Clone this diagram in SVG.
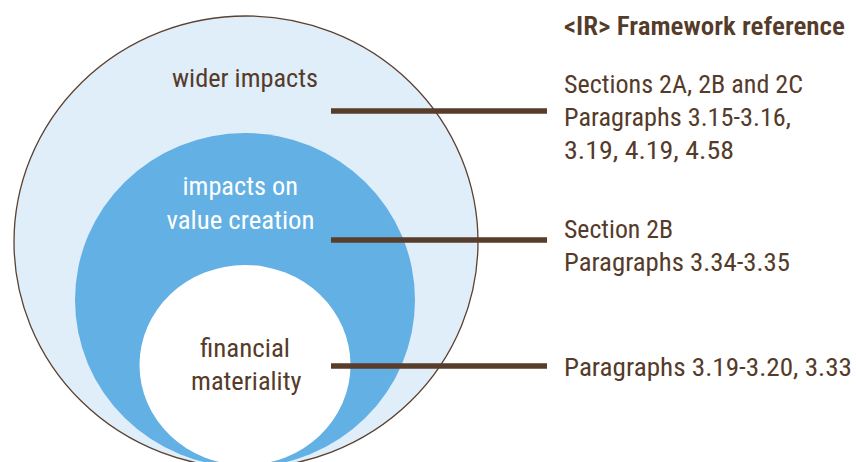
<svg xmlns="http://www.w3.org/2000/svg" width="856" height="462" viewBox="0 0 856 462">
<style>
.t{font-family:"Liberation Sans Narrow","Roboto Condensed","Liberation Sans",Arial,sans-serif;font-size:26.5px;fill:#553b2a}
.w{fill:#ffffff}
.h{font-weight:600;font-size:25px}
.c{stroke:#573d2a;stroke-width:5.5;fill:none}
</style>
<rect width="856" height="462" fill="#ffffff"/>
<g id="wider">
<ellipse cx="246" cy="242" rx="232" ry="226" fill="#e0eefa" stroke="#5a4232" stroke-width="1.3"/>
<text class="t" x="172" y="86.5" textLength="146" lengthAdjust="spacingAndGlyphs">wider impacts</text>
</g>
<g id="value">
<ellipse cx="245" cy="300" rx="170" ry="167" fill="#63b0e4"/>
<text class="t w" x="182.5" y="195" textLength="115.5" lengthAdjust="spacingAndGlyphs">impacts on</text>
<text class="t w" x="166.5" y="229" textLength="148" lengthAdjust="spacingAndGlyphs">value creation</text>
</g>
<g id="financial">
<ellipse cx="245" cy="365" rx="105.5" ry="100" fill="#ffffff"/>
<text class="t" x="200" y="357" textLength="90" lengthAdjust="spacingAndGlyphs">financial</text>
<text class="t" x="191" y="390" textLength="110.5" lengthAdjust="spacingAndGlyphs">materiality</text>
</g>
<g id="connectors">
<line class="c" x1="331" y1="111" x2="547" y2="111"/>
<line class="c" x1="331" y1="240" x2="547" y2="240"/>
<line class="c" x1="331" y1="366" x2="547" y2="366"/>
</g>
<g id="references">
<text class="t h" x="564" y="35" textLength="281" lengthAdjust="spacingAndGlyphs">&lt;IR&gt; Framework reference</text>
<text class="t" x="564" y="93" textLength="239" lengthAdjust="spacingAndGlyphs">Sections 2A, 2B and 2C</text>
<text class="t" x="564" y="126" textLength="227" lengthAdjust="spacingAndGlyphs">Paragraphs 3.15-3.16,</text>
<text class="t" x="564" y="159" textLength="170" lengthAdjust="spacingAndGlyphs">3.19, 4.19, 4.58</text>
<text class="t" x="564" y="238" textLength="109" lengthAdjust="spacingAndGlyphs">Section 2B</text>
<text class="t" x="564" y="271" textLength="226" lengthAdjust="spacingAndGlyphs">Paragraphs 3.34-3.35</text>
<text class="t" x="564" y="375.5" textLength="288" lengthAdjust="spacingAndGlyphs">Paragraphs 3.19-3.20, 3.33</text>
</g>
</svg>
